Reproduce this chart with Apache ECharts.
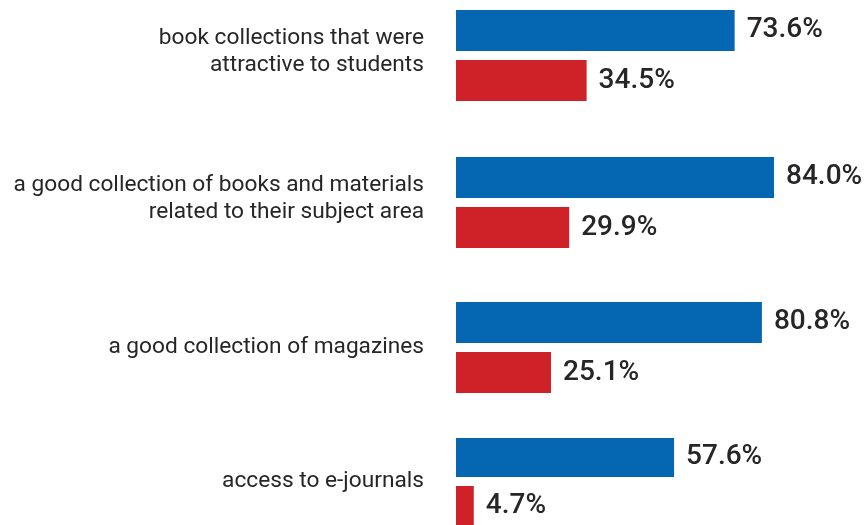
<!DOCTYPE html>
<html>
<head>
<meta charset="utf-8">
<script src="https://cdn.jsdelivr.net/npm/echarts@6/dist/echarts.min.js"></script>
<style>
  html, body { margin: 0; padding: 0; background: #ffffff; }
  #chart { width: 868px; height: 525px; }
</style>
</head>
<body>
<div id="chart"></div>
<script>
// Survey items, one group of bars each
const categories = [
  'book collections that were\nattractive to students',
  'a good collection of books and materials\nrelated to their subject area',
  'a good collection of magazines',
  'access to e-journals'
];
// Share of respondents (%) for the two groups being compared
const blueValues = [73.6, 84.0, 80.8, 57.6];
const redValues = [34.5, 29.9, 25.1, 4.7];

// Layout: each item gets its own band so the groups can sit at their own heights
const groupTops = [10, 157, 302, 438];
const BAND_HEIGHT = 91;
const BAR_WIDTH = 41;
const PLOT_LEFT = 456;
const PLOT_WIDTH = 378.6;   // 0..100 %

const BLUE = '#0567b1';
const RED = '#cf2128';
const TEXT = '#262626';

const grids = [], xAxes = [], yAxes = [], series = [];

const valueLabel = {
  show: true,
  position: 'right',
  distance: 12,
  fontFamily: 'Roboto',
  fontSize: 28,
  fontWeight: 500,
  color: TEXT,
  formatter: p => p.value.toFixed(1) + '%'
};

categories.forEach((cat, i) => {
  grids.push({
    left: PLOT_LEFT,
    width: PLOT_WIDTH,
    top: groupTops[i],
    height: BAND_HEIGHT,
    containLabel: false
  });
  xAxes.push({
    type: 'value',
    gridIndex: i,
    min: 0,
    max: 100,
    show: false
  });
  yAxes.push({
    type: 'category',
    gridIndex: i,
    inverse: true,
    data: [cat],
    axisLine: { show: false },
    axisTick: { show: false },
    splitLine: { show: false },
    axisLabel: {
      margin: 32,
      fontFamily: 'Roboto',
      fontSize: 22.7,
      lineHeight: 27,
      color: TEXT,
      align: 'right',
      // two-line labels get a thin empty row underneath, lifting them a little
      formatter: v => v.indexOf('\n') >= 0 ? v + '\n{gap| }' : v,
      rich: {
        gap: { fontSize: 1, height: 7, lineHeight: 7 }
      }
    }
  });
  series.push({
    type: 'bar',
    name: 'group A',
    xAxisIndex: i,
    yAxisIndex: i,
    data: [blueValues[i]],
    barWidth: BAR_WIDTH,
    barGap: '22%',
    barCategoryGap: 0,
    itemStyle: { color: BLUE },
    label: valueLabel,
    silent: true
  });
  series.push({
    type: 'bar',
    name: 'group B',
    xAxisIndex: i,
    yAxisIndex: i,
    data: [redValues[i]],
    barWidth: BAR_WIDTH,
    barGap: '22%',
    barCategoryGap: 0,
    itemStyle: { color: RED },
    label: valueLabel,
    silent: true
  });
});

const chart = echarts.init(document.getElementById('chart'), null, { renderer: 'canvas' });
chart.setOption({
  backgroundColor: '#ffffff',
  animation: false,
  grid: grids,
  xAxis: xAxes,
  yAxis: yAxes,
  series: series
});
</script>
</body>
</html>
